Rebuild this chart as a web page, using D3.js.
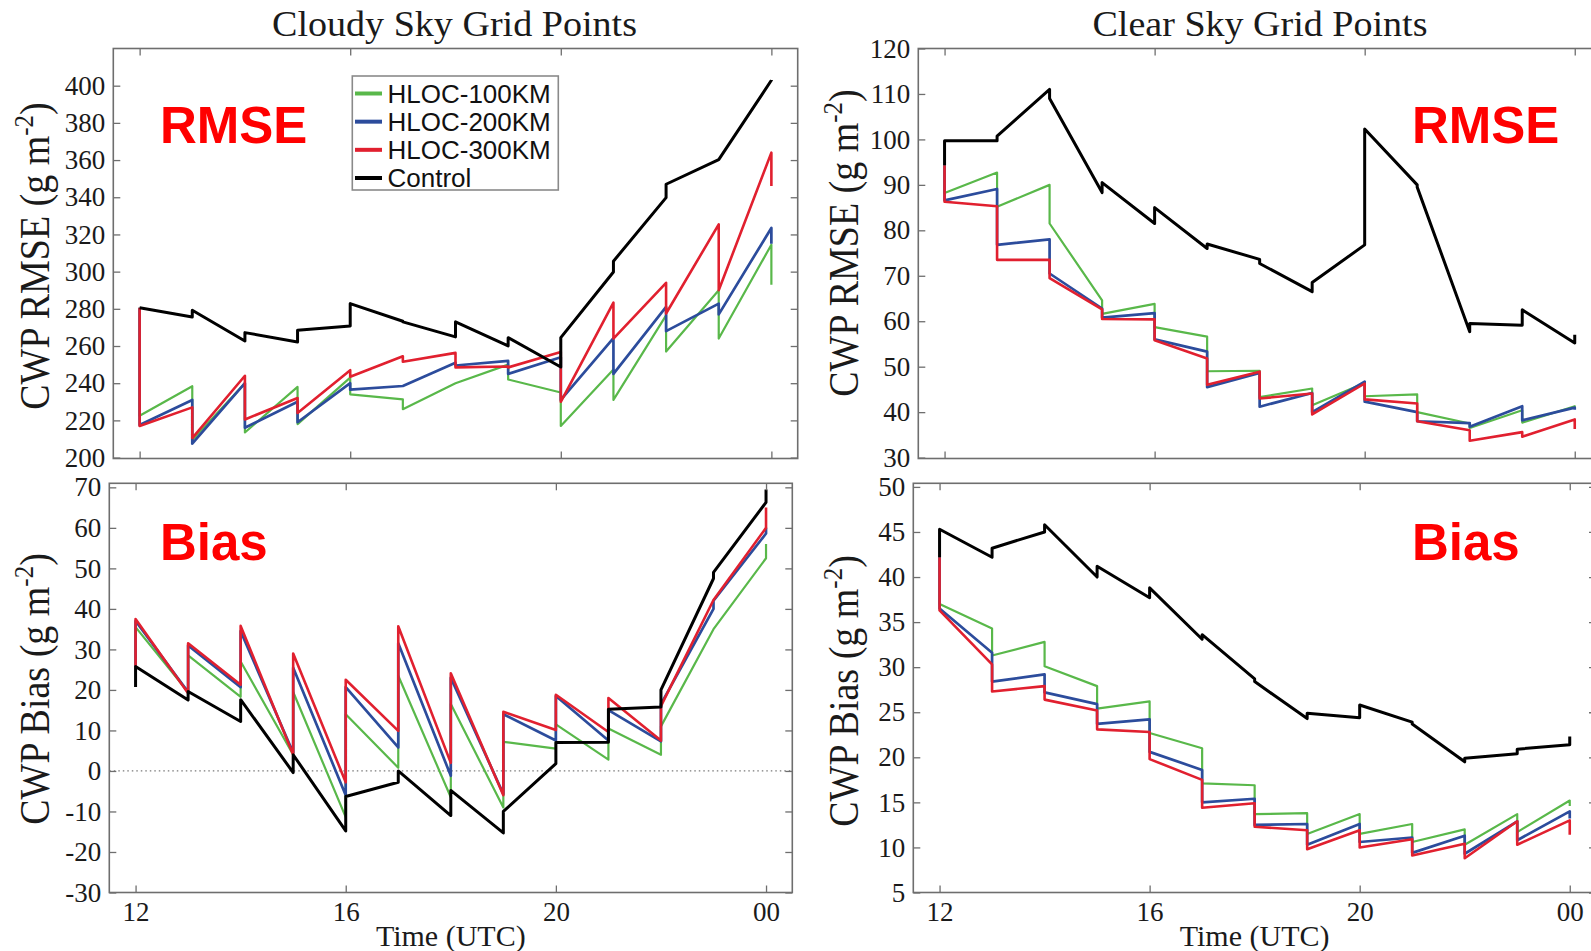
<!DOCTYPE html>
<html>
<head>
<meta charset="utf-8">
<script src="https://cdn.jsdelivr.net/npm/d3@7"></script>
<style>
  body { margin: 0; background: #fff; }
  svg { display: block; }
</style>
</head>
<body>
<svg id="chart" width="1591" height="951"></svg>
<script>
// Hourly cycle: at each hour a forecast value (before update) and an analysis value (after update)
const hours = [12, 13, 14, 15, 16, 17, 18, 19, 20, 21, 22, 23, 24];
const timeTicks = [12, 16, 20, 24];
const timeTickLabels = ["12", "16", "20", "00"];
const seriesNames = ["HLOC-100KM", "HLOC-200KM", "HLOC-300KM", "Control"];

// Cloudy sky RMSE (g m-2): [before, after] per hour
const cloudyRmse100 = [[280.6,222.5],[238.4,209.5],[240.0,213.5],[238.0,218.0],[243.0,234.0],[231.3,226.0],[240.0,240.0],[250.0,242.0],[235.0,217.0],[247.3,231.0],[276.5,257.0],[290.0,264.0],[314.5,293.0]];
const cloudyRmse200 = [[280.6,217.5],[231.0,207.5],[240.0,216.0],[230.0,219.0],[240.0,236.5],[238.5,238.5],[251.0,249.5],[252.0,245.0],[254.0,231.0],[264.3,245.0],[281.0,268.0],[282.8,277.0],[323.5,315.0]];
const cloudyRmse300 = [[280.6,217.0],[227.0,210.5],[244.0,220.5],[232.0,224.0],[247.0,243.5],[254.5,251.5],[256.3,248.5],[249.0,248.5],[256.8,230.0],[283.3,264.0],[294.0,277.5],[325.4,290.0],[364.0,346.0]];
const cloudyRmseCtl = [[280.6,280.6],[275.6,279.2],[262.7,267.2],[262.2,268.5],[270.8,282.8],[273.3,273.0],[264.9,273.0],[260.1,264.5],[248.7,264.5],[299.8,305.6],[339.8,347.0],[360.2,360.2],[402.9,403.0]];

// Clear sky RMSE (g m-2)
const clearRmse100 = [[94.3,88.2],[92.7,85.2],[90.0,81.5],[64.6,61.6],[63.8,58.7],[56.6,49.0],[49.1,43.3],[45.2,41.5],[46.4,43.5],[43.9,40.0],[37.5,36.5],[40.4,37.7],[41.3,40.8]];
const clearRmse200 = [[94.3,86.6],[89.1,76.8],[78.0,70.5],[62.8,60.8],[61.8,56.0],[53.3,45.5],[48.6,41.2],[44.2,40.0],[46.7,42.3],[40.0,38.0],[37.6,36.8],[41.3,38.2],[41.0,40.5]];
const clearRmse300 = [[94.3,86.3],[85.3,73.5],[73.5,69.5],[62.6,60.5],[60.4,55.8],[51.8,46.0],[48.9,43.0],[44.1,39.5],[46.3,42.8],[41.9,38.0],[36.0,33.7],[35.6,34.6],[38.4,36.3]];
const clearRmseCtl = [[94.3,99.7],[99.7,100.7],[111.0,109.0],[88.3,90.5],[81.5,85.0],[76.0,77.0],[73.6,72.7],[66.5,68.5],[76.8,102.3],[90.0,89.5],[57.7,59.5],[59.1,62.5],[55.2,57.0]];

// Cloudy sky bias (g m-2)
const cloudyBias100 = [[25.8,35.5],[19.5,28.5],[18.3,27.0],[4.0,19.5],[-11.4,14.0],[0.8,23.5],[-6.5,16.5],[-9.0,7.2],[5.5,11.5],[2.8,10.5],[4.0,11.0],[35.0,35.0],[52.5,56.0]];
const cloudyBias200 = [[25.8,37.0],[19.5,31.0],[20.7,34.5],[4.5,25.5],[-6.0,20.7],[5.8,31.5],[-1.2,23.0],[-5.7,14.0],[7.5,18.5],[7.5,15.0],[7.3,16.5],[40.0,42.0],[58.6,60.0]];
const cloudyBias300 = [[25.8,37.5],[19.2,31.5],[21.3,35.8],[4.0,29.0],[-2.8,22.5],[9.9,35.7],[2.0,24.1],[-6.0,14.6],[10.1,18.8],[9.6,18.0],[7.5,16.0],[42.2,42.2],[60.0,65.0]];
const cloudyBiasCtl = [[20.7,25.8],[17.5,19.6],[12.2,17.6],[-0.4,4.0],[-14.8,-6.3],[-2.8,0.0],[-11.0,-4.8],[-15.3,-10.0],[1.8,7.0],[7.1,15.2],[15.8,20.0],[47.5,49.0],[66.3,69.5]];

// Clear sky bias (g m-2)
const clearBias100 = [[42.2,37.0],[34.3,31.3],[32.8,30.1],[27.9,25.4],[26.2,22.7],[21.0,17.1],[16.9,13.7],[13.8,11.5],[13.7,11.5],[12.6,10.6],[12.0,10.3],[13.7,11.7],[15.2,14.6]];
const clearBias200 = [[42.2,36.5],[31.6,28.4],[29.2,27.2],[25.9,23.7],[24.2,20.6],[18.6,15.0],[15.4,12.5],[12.6,10.3],[12.6,10.6],[11.1,9.4],[11.3,9.3],[12.9,10.8],[14.0,13.2]];
const clearBias300 = [[42.2,36.3],[30.3,27.3],[27.9,26.4],[25.2,23.1],[22.8,19.8],[17.5,14.4],[14.9,12.3],[11.9,9.8],[11.9,10.0],[10.9,9.1],[10.4,8.8],[12.9,10.3],[13.0,11.4]];
const clearBiasCtl = [[42.2,45.3],[42.2,43.2],[45.0,45.8],[40.0,41.2],[37.7,38.8],[33.1,33.6],[28.7,28.4],[24.3,24.9],[24.4,25.8],[23.9,23.7],[19.5,19.9],[20.4,20.9],[21.4,22.3]];

// Y tick values
const cloudyRmseTicks = [200, 220, 240, 260, 280, 300, 320, 340, 360, 380, 400];
const clearRmseTicks = [30, 40, 50, 60, 70, 80, 90, 100, 110, 120];
const cloudyBiasTicks = [-30, -20, -10, 0, 10, 20, 30, 40, 50, 60, 70];
const clearBiasTicks = [5, 10, 15, 20, 25, 30, 35, 40, 45, 50];

const colors = ["#59b84a", "#2c4c9c", "#e1202f", "#000000"];
const widths = [2.2, 2.7, 2.6, 3];

const serif = "'Liberation Serif', 'Times New Roman', serif";
const sans = "'Liberation Sans', Arial, sans-serif";

const svg = d3.select("#chart");

const panels = [
  { id: "p1", box: [113.3, 48.5, 797.7, 458.5], yDomain: [199.5, 420], yTicks: cloudyRmseTicks,
    series: [cloudyRmse100, cloudyRmse200, cloudyRmse300, cloudyRmseCtl],
    title: "Cloudy Sky Grid Points", titleX: 454.5, titleLen: 365,
    yLabel: "CWP RMSE", yLabelX: 49, yLabelY: 256,
    tag: "RMSE", tagX: 160, tagY: 143, xLabels: false, legend: true, zero: false },
  { id: "p2", box: [918.3, 48.5, 1601, 458.5], yDomain: [29.8, 120], yTicks: clearRmseTicks,
    series: [clearRmse100, clearRmse200, clearRmse300, clearRmseCtl],
    title: "Clear Sky Grid Points", titleX: 1260, titleLen: 335,
    yLabel: "CWP RMSE", yLabelX: 858, yLabelY: 243,
    tag: "RMSE", tagX: 1412, tagY: 143, xLabels: false, legend: false, zero: false },
  { id: "p3", box: [109.3, 483.3, 792.3, 892.5], yDomain: [-30, 71], yTicks: cloudyBiasTicks,
    series: [cloudyBias100, cloudyBias200, cloudyBias300, cloudyBiasCtl],
    yLabel: "CWP Bias", yLabelX: 49, yLabelY: 689,
    tag: "Bias", tagX: 160, tagY: 560, xLabels: true, legend: false, zero: true },
  { id: "p4", box: [913.3, 483.3, 1596, 892.5], yDomain: [5, 50.4], yTicks: clearBiasTicks,
    series: [clearBias100, clearBias200, clearBias300, clearBiasCtl],
    yLabel: "CWP Bias", yLabelX: 858, yLabelY: 691,
    tag: "Bias", tagX: 1412, tagY: 560, xLabels: true, legend: false, zero: false }
];

function sawtooth(pairs) {
  const pts = [];
  pairs.forEach((p, i) => { pts.push([hours[i], p[0]]); pts.push([hours[i], p[1]]); });
  return pts;
}

panels.forEach(p => {
  const [x0, y0, x1, y1] = p.box;
  const x = d3.scaleLinear().domain([11.5, 24.5]).range([x0, x1]);
  const y = d3.scaleLinear().domain(p.yDomain).range([y1, y0]);
  const g = svg.append("g");

  svg.append("clipPath").attr("id", "clip-" + p.id)
    .append("rect").attr("x", x0).attr("y", y0).attr("width", x1 - x0).attr("height", y1 - y0);

  const plot = g.append("g").attr("clip-path", `url(#clip-${p.id})`);

  if (p.zero) {
    plot.append("line")
      .attr("x1", x0).attr("x2", x1).attr("y1", y(0)).attr("y2", y(0))
      .attr("stroke", "#7a7a7a").attr("stroke-width", 1.2).attr("stroke-dasharray", "1.5,3");
  }

  const line = d3.line().x(d => x(d[0])).y(d => y(d[1]));
  p.series.forEach((s, i) => {
    plot.append("path").datum(sawtooth(s))
      .attr("d", line).attr("fill", "none")
      .attr("stroke", colors[i]).attr("stroke-width", widths[i])
      .attr("stroke-linejoin", "round");
  });

  // Axes with inward ticks on all four sides
  const styleAxis = a => {
    a.select(".domain").remove();
    a.selectAll(".tick line").attr("stroke", "#6e6e6e").attr("stroke-width", 1.3);
    a.selectAll("text").attr("font-family", serif).attr("font-size", 27).attr("fill", "#1a1a1a");
  };
  g.append("g").attr("transform", `translate(${x0},0)`)
    .call(d3.axisLeft(y).tickValues(p.yTicks).tickSizeInner(-7).tickSizeOuter(0).tickPadding(8)
      .tickFormat(d => String(d)))
    .call(styleAxis);
  g.append("g").attr("transform", `translate(${x1},0)`)
    .call(d3.axisRight(y).tickValues(p.yTicks).tickSizeInner(-7).tickSizeOuter(0).tickFormat(""))
    .call(styleAxis);
  g.append("g").attr("transform", `translate(0,${y0})`)
    .call(d3.axisTop(x).tickValues(timeTicks).tickSizeInner(-7).tickSizeOuter(0).tickFormat(""))
    .call(styleAxis);
  g.append("g").attr("transform", `translate(0,${y1})`)
    .call(d3.axisBottom(x).tickValues(timeTicks).tickSizeInner(-7).tickSizeOuter(0).tickPadding(9)
      .tickFormat((d, i) => p.xLabels ? timeTickLabels[i] : ""))
    .call(styleAxis);

  g.append("rect").attr("x", x0).attr("y", y0).attr("width", x1 - x0).attr("height", y1 - y0)
    .attr("fill", "none").attr("stroke", "#6e6e6e").attr("stroke-width", 1.6);

  // Panel tag
  g.append("text").attr("x", p.tagX).attr("y", p.tagY)
    .attr("font-family", sans).attr("font-weight", "bold").attr("font-size", 51)
    .attr("fill", "#ff0000").text(p.tag);

  // Column title
  if (p.title) {
    g.append("text").attr("x", p.titleX).attr("y", 36).attr("text-anchor", "middle")
      .attr("font-family", serif).attr("font-size", 35).attr("fill", "#1a1a1a")
      .attr("textLength", p.titleLen).attr("lengthAdjust", "spacingAndGlyphs")
      .text(p.title);
  }

  // Y axis title
  const yl = g.append("text")
    .attr("transform", `translate(${p.yLabelX},${p.yLabelY}) rotate(-90) scale(1,1.12)`)
    .attr("text-anchor", "middle").attr("font-family", serif).attr("font-size", 38)
    .attr("fill", "#1a1a1a");
  yl.append("tspan").text(p.yLabel + " (g m");
  yl.append("tspan").attr("font-size", 25).attr("dy", -14).text("-2");
  yl.append("tspan").attr("dy", 14).text(")");

  // X axis title
  if (p.xLabels) {
    g.append("text").attr("x", (x(12) + x(24)) / 2).attr("y", 946).attr("text-anchor", "middle")
      .attr("font-family", serif).attr("font-size", 30).attr("fill", "#1a1a1a")
      .text("Time (UTC)");
  }

  // Legend
  if (p.legend) {
    const lg = g.append("g");
    lg.append("rect").attr("x", 352.3).attr("y", 76).attr("width", 206).attr("height", 114)
      .attr("fill", "#fff").attr("stroke", "#8a8a8a").attr("stroke-width", 1.6);
    const rowY = d3.scaleLinear().domain([0, 3]).range([93.5, 178]);
    seriesNames.forEach((name, i) => {
      lg.append("line").attr("x1", 355).attr("x2", 382).attr("y1", rowY(i)).attr("y2", rowY(i))
        .attr("stroke", colors[i]).attr("stroke-width", 4);
      lg.append("text").attr("x", 387.5).attr("y", rowY(i) + 9.3)
        .attr("font-family", sans).attr("font-size", 26).attr("fill", "#111").text(name);
    });
  }
});
</script>
</body>
</html>
